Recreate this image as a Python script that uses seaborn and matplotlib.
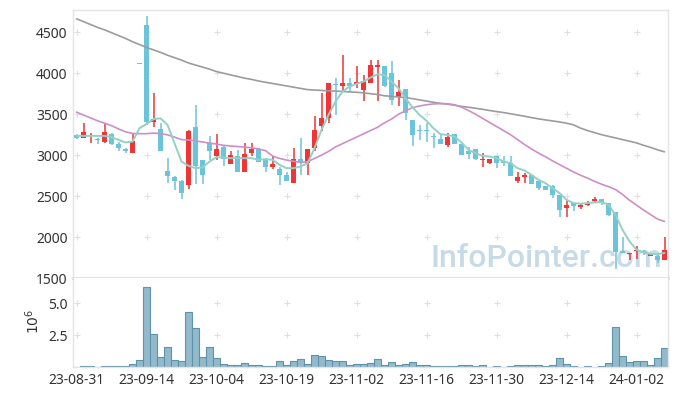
import numpy as np
import pandas as pd
import matplotlib
matplotlib.use("Agg")
import matplotlib.pyplot as plt
import seaborn as sns

# daily candles, 23-08-31 .. 24-01-08 (trading days)
opens = [3248, 3215, 3235, 3199, 3166, 3260, 3138, 3077, 3032, 4122,
         4590, 3410, 3320, 2810, 2730, 2685, 2630, 3340, 2940, 3145,
         2995, 3095, 2890, 2985, 2800, 3030, 3075, 2950, 2850, 2835,
         2760, 2660, 2955, 2905, 3085, 3350, 3450, 3875, 3840, 3880,
         3870, 3790, 3880, 4080, 4090, 4000, 3715, 3810, 3430, 3315,
         3310, 3235, 3200, 3125, 3260, 3135, 3045, 3075, 2945, 2910,
         2985, 2925, 2905, 2690, 2730, 2760, 2690, 2620, 2625, 2515,
         2355, 2415, 2365, 2395, 2435, 2465, 2410, 2305, 1835, 1800,
         1825, 1835, 1770, 1770, 1715]
highs = [3260, 3390, 3272, 3215, 3390, 3268, 3165, 3090, 3270, 4122,
         4700, 3755, 3390, 2965, 2740, 2700, 3305, 3610, 2945, 3235,
         3260, 3115, 3050, 3065, 3145, 3145, 3085, 2965, 2985, 2850,
         2790, 3085, 3205, 3080, 3480, 3755, 3880, 3940, 4225, 3945,
         4090, 3980, 4160, 4160, 4090, 4155, 3920, 3810, 3430, 3370,
         3390, 3270, 3250, 3265, 3260, 3135, 3105, 3075, 3030, 2955,
         2990, 2990, 2985, 2800, 2780, 2760, 2690, 2620, 2630, 2515,
         2455, 2415, 2415, 2435, 2485, 2465, 2410, 2305, 2000, 1810,
         1895, 1845, 1800, 1775, 2000]
lows = [3200, 3205, 3150, 3130, 3145, 3122, 3045, 3032, 3025, 4118,
        3370, 3340, 3055, 2660, 2580, 2465, 2590, 2645, 2650, 2945,
        2945, 2870, 2890, 2790, 2800, 2985, 2920, 2800, 2830, 2630,
        2680, 2660, 2760, 2760, 3055, 3290, 3390, 3490, 3775, 3765,
        3815, 3660, 3880, 3655, 3835, 3615, 3595, 3430, 3115, 3185,
        3165, 3085, 3135, 3105, 3133, 3000, 2950, 2942, 2860, 2895,
        2840, 2870, 2750, 2665, 2665, 2645, 2575, 2575, 2475, 2250,
        2250, 2315, 2340, 2375, 2415, 2395, 2260, 1610, 1805, 1715,
        1730, 1785, 1765, 1685, 1715]
closes = [3215, 3280, 3248, 3180, 3280, 3130, 3093, 3045, 3174, 4118,
          3400, 3440, 3055, 2740, 2680, 2535, 3295, 2870, 2760, 3055,
          3075, 2950, 3000, 2800, 3010, 3075, 2920, 2850, 2895, 2760,
          2690, 2955, 2905, 3075, 3310, 3450, 3880, 3865, 3880, 3840,
          3890, 3900, 4100, 4100, 3840, 3675, 3775, 3520, 3250, 3305,
          3300, 3225, 3135, 3225, 3135, 3005, 3010, 2955, 2955, 2955,
          2910, 2905, 2750, 2730, 2760, 2650, 2600, 2580, 2515, 2335,
          2395, 2375, 2395, 2415, 2465, 2415, 2265, 1815, 1805, 1810,
          1845, 1805, 1795, 1715, 1845]

ma5 = [3235, 3235, 3235, 3235, 3235, 3220, 3187, 3155, 3165, 3330,
       3380, 3440, 3450, 3370, 3146, 2922, 2869, 2841, 2849, 2922,
       2975, 2971, 2963, 2963, 2963, 2963, 2943, 2951, 2943, 2882,
       2841, 2841, 2861, 2900, 3085, 3308, 3491, 3654, 3776, 3837,
       3870, 3898, 3947, 3987, 3979, 3898, 3817, 3695, 3585, 3491,
       3420, 3328, 3255, 3247, 3227, 3154, 3064, 3024, 2991, 2983,
       2963, 2922, 2902, 2841, 2812, 2759, 2698, 2658, 2597, 2537,
       2455, 2415, 2407, 2415, 2423, 2427, 2394, 2272, 2089, 1947,
       1846, 1813, 1793, 1793, 1805]
ma20 = [3525, 3490, 3455, 3420, 3390, 3360, 3320, 3285, 3265, 3262,
        3262, 3270, 3262, 3248, 3220, 3190, 3185, 3175, 3160, 3148,
        3135, 3120, 3112, 3105, 3098, 3090, 3075, 3055, 2990, 2960,
        2940, 2925, 2910, 2920, 2960, 3000, 3045, 3100, 3140, 3180,
        3220, 3260, 3300, 3340, 3395, 3440, 3500, 3540, 3580, 3600,
        3615, 3625, 3628, 3628, 3615, 3585, 3545, 3500, 3450, 3400,
        3350, 3300, 3250, 3190, 3130, 3075, 3025, 2980, 2930, 2885,
        2840, 2795, 2755, 2720, 2680, 2645, 2615, 2580, 2520, 2450,
        2390, 2330, 2275, 2220, 2190]
ma60 = [4665, 4630, 4595, 4560, 4530, 4495, 4460, 4425, 4385, 4350,
        4315, 4285, 4255, 4220, 4190, 4160, 4125, 4100, 4075, 4050,
        4020, 4000, 3980, 3960, 3940, 3925, 3905, 3890, 3875, 3860,
        3845, 3830, 3815, 3800, 3795, 3790, 3785, 3782, 3778, 3772,
        3768, 3760, 3750, 3740, 3725, 3718, 3710, 3703, 3690, 3675,
        3660, 3645, 3633, 3622, 3610, 3595, 3585, 3572, 3560, 3545,
        3532, 3520, 3505, 3490, 3475, 3458, 3443, 3430, 3418, 3405,
        3390, 3370, 3330, 3300, 3275, 3250, 3230, 3210, 3190, 3170,
        3150, 3120, 3095, 3065, 3040]

# volume in millions of shares
volume = [0.0, 0.05, 0.05, 0.0, 0.05, 0.05, 0.05, 0.05, 0.21, 0.52,
          6.3, 2.6, 0.82, 1.6, 0.52, 0.44, 4.3, 3.07, 0.75, 1.6,
          0.67, 0.21, 0.13, 0.13, 0.28, 0.13, 0.13, 0.05, 0.05, 0.44,
          0.13, 0.44, 0.59, 0.21, 0.98, 0.9, 0.52, 0.44, 0.44, 0.13,
          0.21, 0.21, 0.28, 0.59, 0.13, 0.36, 0.13, 0.21, 0.36, 0.13,
          0.13, 0.05, 0.05, 0.05, 0.05, 0.13, 0.13, 0.05, 0.13, 0.0,
          0.05, 0.0, 0.05, 0.13, 0.13, 0.13, 0.13, 0.05, 0.13, 0.67,
          0.21, 0.05, 0.0, 0.05, 0.0, 0.05, 0.28, 3.14, 0.9, 0.36,
          0.44, 0.44, 0.13, 0.67, 1.52]

tick_labels = ["23-08-31", "23-09-14", "23-10-04", "23-10-19", "23-11-02",
               "23-11-16", "23-11-30", "23-12-14", "24-01-02"]
price_ticks = [1500, 2000, 2500, 3000, 3500, 4000, 4500]
vol_ticks = [2.5, 5.0]

df = pd.DataFrame({"open": opens, "high": highs, "low": lows, "close": closes,
                   "ma5": ma5, "ma20": ma20, "ma60": ma60, "volume": volume})
df["x"] = np.arange(len(df))
tick_pos = np.arange(len(tick_labels)) * 10

sns.set_theme(style="white")
plt.rcParams["font.family"] = ["Noto Sans", "DejaVu Sans"]

RED = "#ef3535"
BLUE = "#6cc4da"
GRID = "#e0e0e0"
SPINE = "#e4e4e4"
TXT = "#333333"

W, H = 677, 396
fig = plt.figure(figsize=(W / 100, H / 100), dpi=100)
ax = fig.add_axes([73 / W, 1 - 278 / H, 595 / W, 268 / H])
axv = fig.add_axes([73 / W, 1 - 367 / H, 595 / W, 89 / H])

# watermark
ax.text(0.99, 0.042, "InfoPointer.com", transform=ax.transAxes, ha="right",
        va="baseline", fontsize=23, color="#c6dbe7", family="Roboto",
        fontweight="medium", zorder=0)

# grid crosses
gx, gy = np.meshgrid(tick_pos, price_ticks[1:])
ax.scatter(gx.ravel(), gy.ravel(), marker="+", s=16, color=GRID, lw=0.8, zorder=1)
gx, gy = np.meshgrid(tick_pos, vol_ticks)
axv.scatter(gx.ravel(), gy.ravel(), marker="+", s=16, color=GRID, lw=0.8, zorder=1)

# candles
up = df["close"] > df["open"]
colors = np.where(up, RED, BLUE)
ax.vlines(df["x"], df["low"], df["high"], colors=colors, lw=1.1, zorder=2)
bottom = np.minimum(df["open"], df["close"])
height = np.maximum((df["close"] - df["open"]).abs(), 14)
ax.bar(df["x"], height, bottom=bottom - np.where(height == 14, 7, 0), width=0.66,
       color=colors, lw=0, zorder=3)

# moving averages
sns.lineplot(x=df["x"], y=df["ma60"], ax=ax, color="#9c9c9c", lw=1.2, zorder=4)
sns.lineplot(x=df["x"], y=df["ma20"], ax=ax, color="#cc8fc9", lw=1.2, zorder=4)
sns.lineplot(x=df["x"], y=df["ma5"], ax=ax, color="#93d1c6", lw=1.4, zorder=4)

# volume
sns.barplot(x=df["x"], y=df["volume"], ax=axv, native_scale=True, width=1,
            color="#93bacb", edgecolor="#5f93ab", linewidth=0.8, saturation=1,
            errorbar=None, zorder=2)

for a in (ax, axv):
    a.set_xlim(-0.5, 84.5)
    a.set_xlabel("")
    a.set_ylabel("")
    a.tick_params(length=0, labelsize=10, labelcolor=TXT, pad=4)
    for s in a.spines.values():
        s.set_color(SPINE)
        s.set_linewidth(1)

ax.set_ylim(1500, 4772)
ax.set_yticks(price_ticks)
ax.set_xticks(tick_pos)
ax.set_xticklabels([])
ax.spines["bottom"].set_linewidth(2.2)
ax.spines["bottom"].set_color("#e2e2e2")

axv.set_ylim(0, 7.0)
axv.set_yticks(vol_ticks)
axv.set_yticklabels([f"{v:.1f}" for v in vol_ticks])
axv.set_xticks(tick_pos)
axv.set_xticklabels(tick_labels)
axv.spines["top"].set_visible(False)

fig.text(34 / W, 1 - 321 / H, r"$10^6$", rotation=90, ha="center", va="center",
         fontsize=10, color=TXT)

fig.savefig("out.png", dpi=100)
